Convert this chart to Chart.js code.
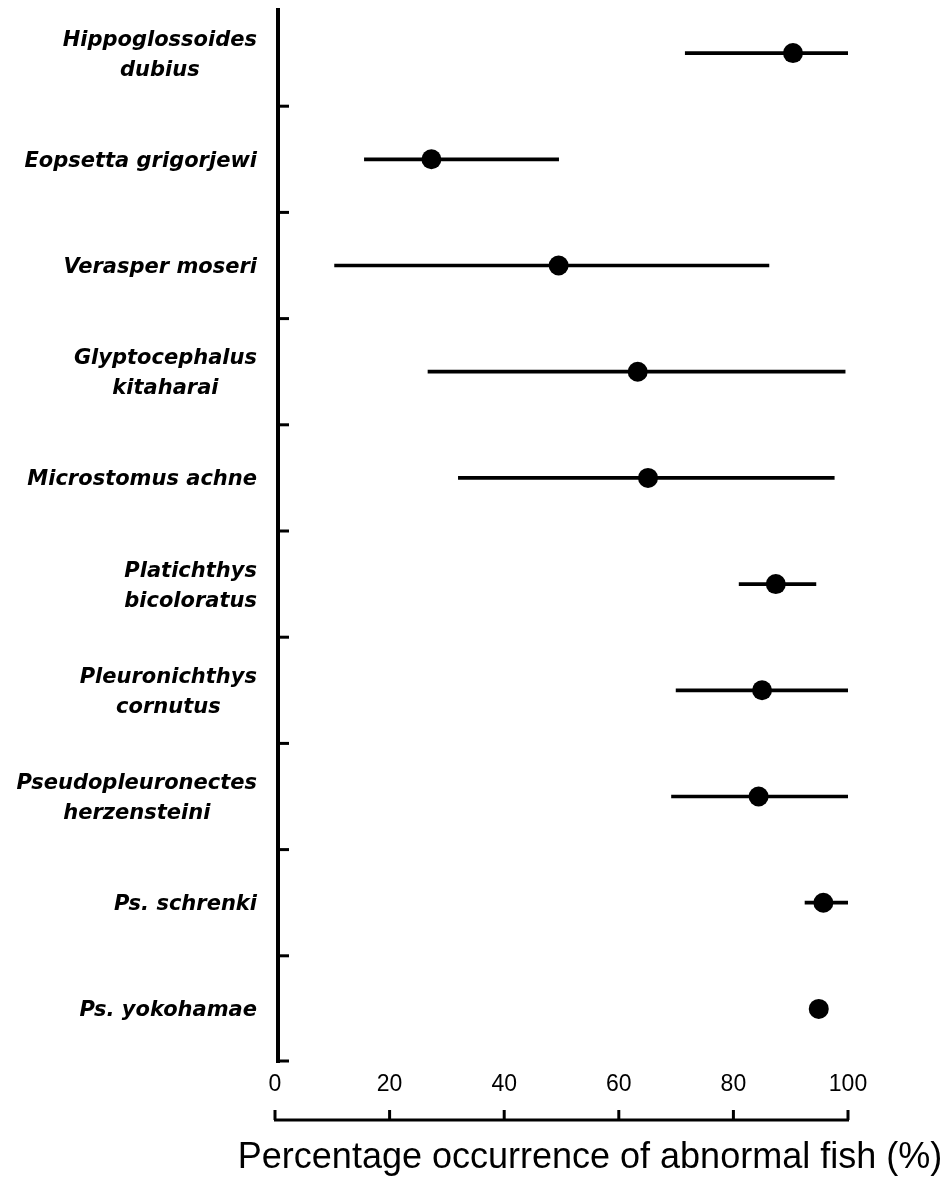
<!DOCTYPE html>
<html>
<head>
<meta charset="utf-8">
<script src="https://cdn.jsdelivr.net/npm/chart.js@4"></script>
<style>
    body { margin: 0; background: #fff; }
    #wrap { width: 948px; height: 1185px; }
</style>
</head>
<body>
<div id="wrap"><canvas id="dotChart" width="948" height="1185"></canvas></div>
<script>
// Species (multi-line labels as arrays)
const species = [
    ['Hippoglossoides', 'dubius'],
    ['Eopsetta grigorjewi'],
    ['Verasper moseri'],
    ['Glyptocephalus', 'kitaharai'],
    ['Microstomus achne'],
    ['Platichthys', 'bicoloratus'],
    ['Pleuronichthys', 'cornutus'],
    ['Pseudopleuronectes', 'herzensteini'],
    ['Ps. schrenki'],
    ['Ps. yokohamae']
];

// Percentage occurrence of abnormal fish (%)
const occurrence = [90.4, 27.3, 49.5, 63.3, 65.1, 87.4, 85.0, 84.4, 95.7, 94.9];
const lowerLimit = [71.6, 15.6, 10.4, 26.7, 32.0, 81.0, 70.0, 69.2, 92.5, null];
const upperLimit = [100, 49.5, 86.2, 99.5, 97.6, 94.4, 100, 100, 100, null];

const xTicks = [0, 20, 40, 60, 80, 100];
const xTitle = 'Percentage occurrence of abnormal fish (%)';

const ranges = lowerLimit.map((lo, i) => (lo === null ? null : [lo, upperLimit[i]]));

// Axes drawn the way the figure has them: ticks pointing inward, x axis line below its labels
const figureAxes = {
    id: 'figureAxes',
    afterDraw(chart) {
        const ctx = chart.ctx;
        const xs = chart.scales.x;
        const ys = chart.scales.y;
        const area = chart.chartArea;
        ctx.save();
        ctx.strokeStyle = '#000';
        ctx.fillStyle = '#000';
        ctx.lineCap = 'butt';

        // y axis line
        const axisX = area.left + 3;
        ctx.lineWidth = 4;
        ctx.beginPath();
        ctx.moveTo(axisX, area.top + 8);
        ctx.lineTo(axisX, area.bottom + 1);
        ctx.stroke();

        // y ticks between categories (and at bottom)
        ctx.lineWidth = 3;
        for (let i = 0; i < species.length; i++) {
            const yb = (i === species.length - 1)
                ? area.bottom - 1
                : (ys.getPixelForValue(i) + ys.getPixelForValue(i + 1)) / 2;
            ctx.beginPath();
            ctx.moveTo(axisX, yb);
            ctx.lineTo(axisX + 11, yb);
            ctx.stroke();
        }

        // x axis line with upward ticks
        const baseY = area.bottom + 58;
        ctx.lineWidth = 3;
        ctx.beginPath();
        ctx.moveTo(xs.getPixelForValue(xTicks[0]) - 1, baseY);
        ctx.lineTo(xs.getPixelForValue(xTicks[xTicks.length - 1]) + 1, baseY);
        ctx.stroke();
        xTicks.forEach(v => {
            const px = xs.getPixelForValue(v);
            ctx.beginPath();
            ctx.moveTo(px, baseY);
            ctx.lineTo(px, baseY - 10);
            ctx.stroke();
        });

        // species labels: block right-aligned, lines centred within the block
        ctx.font = 'italic bold 21px "DejaVu Sans", sans-serif';
        ctx.textAlign = 'center';
        ctx.textBaseline = 'middle';
        species.forEach((lines, i) => {
            const w = Math.max(...lines.map(t => ctx.measureText(t).width));
            const cx = 257 - w / 2;
            const cy = ys.getPixelForValue(i) + 2;
            lines.forEach((t, k) => {
                ctx.fillText(t, cx, cy + (k - (lines.length - 1) / 2) * 30);
            });
        });

        // axis title
        ctx.font = '36px "Liberation Sans", Arial, sans-serif';
        ctx.textAlign = 'center';
        ctx.fillText(xTitle, 590, area.bottom + 96);
        ctx.restore();
    }
};

const ctx = document.getElementById('dotChart').getContext('2d');
const dotChart = new Chart(ctx, {
    type: 'bar',
    data: {
        labels: species,
        datasets: [{
            type: 'line',
            label: 'Occurrence',
            data: occurrence,
            showLine: false,
            pointRadius: 10,
            pointHoverRadius: 10,
            pointBackgroundColor: '#000',
            pointBorderColor: '#000',
            pointBorderWidth: 0,
            order: 1
        }, {
            label: 'Range',
            data: ranges,
            backgroundColor: '#000',
            borderWidth: 0,
            barThickness: 3,
            order: 2
        }]
    },
    options: {
        indexAxis: 'y',
        responsive: false,
        animation: false,
        layout: { autoPadding: false, padding: { top: 0, right: 100, bottom: 0, left: 0 } },
        plugins: {
            legend: { display: false },
            tooltip: { enabled: false }
        },
        scales: {
            x: {
                type: 'linear',
                min: 0,
                max: 100,
                afterBuildTicks: scale => { scale.ticks = xTicks.map(v => ({ value: v })); },
                afterFit: scale => { scale.height = 123; },
                grid: { display: false, drawTicks: false },
                border: { display: false },
                ticks: {
                    padding: 9,
                    color: '#000',
                    font: { family: "'Liberation Sans', Arial, sans-serif", size: 23 }
                }
            },
            y: {
                type: 'category',
                offset: true,
                afterFit: scale => { scale.width = 275; },
                grid: { display: false, offset: true },
                border: { display: false },
                ticks: { display: false }
            }
        }
    },
    plugins: [figureAxes]
});
</script>
</body>
</html>
